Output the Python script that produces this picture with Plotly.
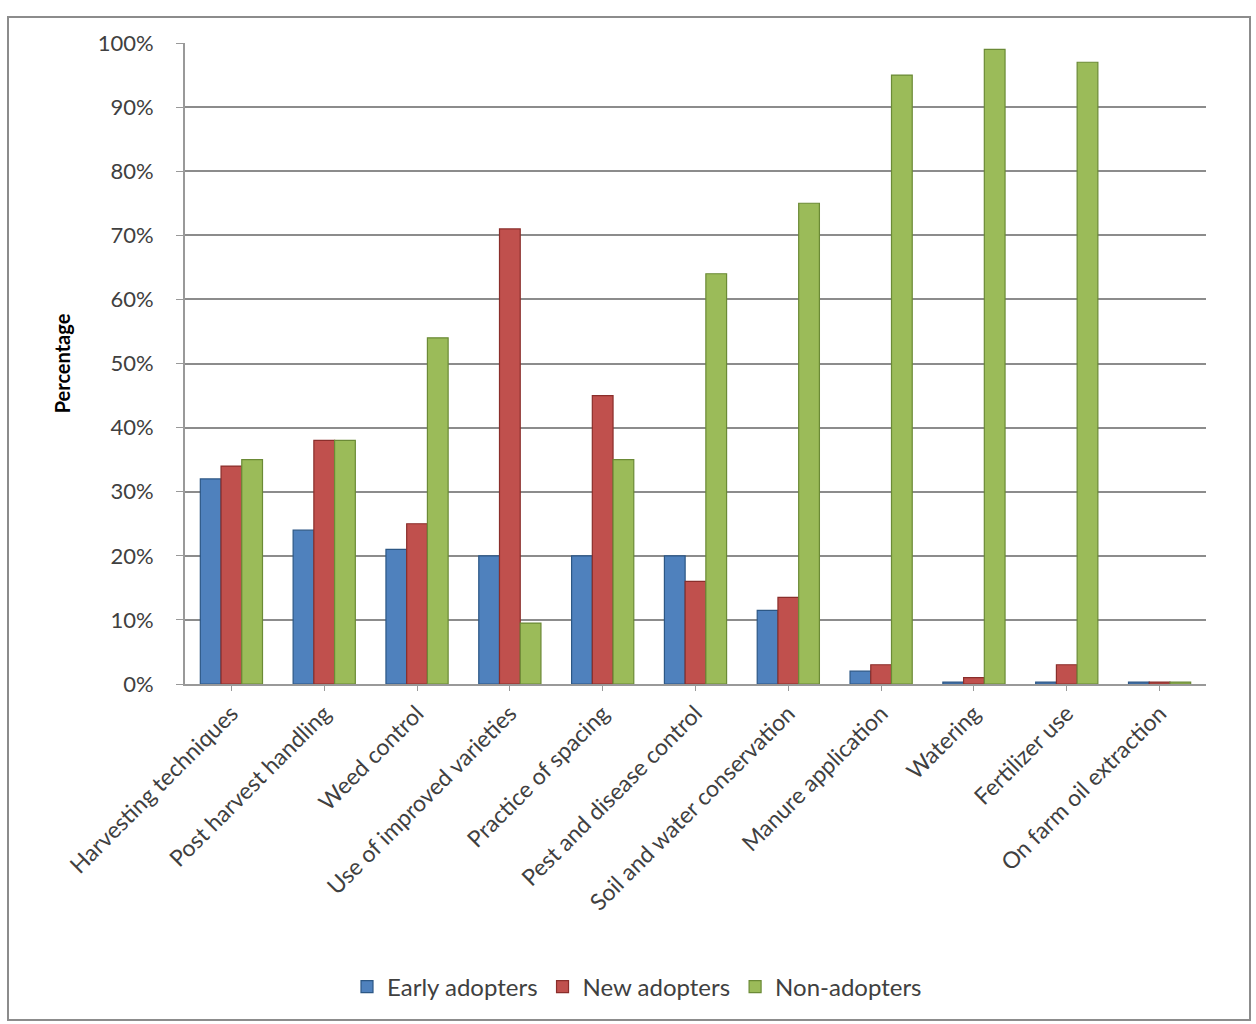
import plotly.graph_objects as go

categories = [
    "Harvesting techniques", "Post harvest handling", "Weed control",
    "Use of improved varieties", "Practice of spacing", "Pest and disease control",
    "Soil and water conservation", "Manure application", "Watering",
    "Fertilizer use", "On farm oil extraction",
]
early_adopters = [32, 24, 21, 20, 20, 20, 11.5, 2, 0.3, 0.3, 0.3]
new_adopters = [34, 38, 25, 71, 45, 16, 13.5, 3, 1, 3, 0.3]
non_adopters = [35, 38, 54, 9.5, 35, 64, 75, 95, 99, 97, 0.3]

series = [
    ("Early adopters", early_adopters, "#4F81BD", "#2C5785"),
    ("New adopters", new_adopters, "#C0504D", "#8A2E2B"),
    ("Non-adopters", non_adopters, "#9BBB59", "#6B8A36"),
]

fig = go.Figure()
for name, vals, fill, edge in series:
    fig.add_trace(go.Bar(
        name=name, x=categories, y=vals,
        marker=dict(color=fill, line=dict(color=edge, width=1.2)),
    ))

font_family = "Lato, 'Open Sans', sans-serif"

# plot area: 185..1206 px horizontally, 43..684 px vertically
PW, PH = 1021, 641

fig.update_layout(
    width=1256, height=1024,
    margin=dict(l=185, r=50, t=43, b=340),
    paper_bgcolor="white", plot_bgcolor="white",
    barmode="group", bargap=0.33, bargroupgap=0.0,
    font=dict(family=font_family, color="#404040", size=18),
    legend=dict(
        orientation="h", x=(637 - 185) / PW, xanchor="center",
        y=-(987 - 684) / PH, yanchor="middle",
        font=dict(size=24, color="#404040"), traceorder="normal",
        bgcolor="rgba(0,0,0,0)", itemwidth=30,
    ),
    xaxis=dict(
        tickangle=-45, tickfont=dict(size=23, color="#404040"),
        showline=True, linecolor="#999999", linewidth=2,
        ticks="outside", ticklen=5, tickcolor="#999999",
        showgrid=False,
    ),
    yaxis=dict(
        range=[0, 100], dtick=10, ticksuffix="%",
        tickfont=dict(size=22, color="#404040"), ticklabelstandoff=18,
        showgrid=True, gridcolor="#8C8C8C", gridwidth=2,
        showline=True, linecolor="#999999", linewidth=2,
        ticks="outside", ticklen=7, tickcolor="#999999",
        zeroline=False,
        title=dict(text="<b>Percentage</b>", font=dict(size=20, color="#000000"), standoff=22),
    ),
    shapes=[
        dict(type="rect", xref="paper", yref="paper",
             x0=-177 / PW, x1=1 + 44 / PW, y0=-336 / PH, y1=1 + 26 / PH,
             line=dict(color="#8C8C8C", width=2), fillcolor="rgba(0,0,0,0)", layer="below"),
    ],
)

fig.write_html("out.html")
